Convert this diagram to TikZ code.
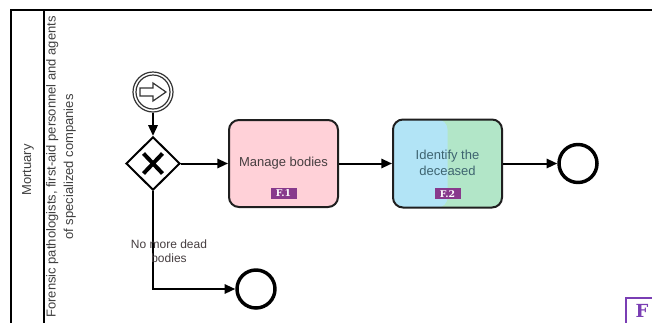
\documentclass[tikz,border=0pt]{standalone}
\usepackage{fontspec}
\setmainfont{Liberation Sans}
\newfontfamily\badgefont{DejaVu Serif}
\usetikzlibrary{arrows.meta,shapes.geometric}
\definecolor{badgepurple}{RGB}{136,58,140}
\definecolor{framepurple}{RGB}{122,62,180}
\definecolor{taskpink}{RGB}{255,209,216}
\definecolor{taskblue}{RGB}{178,228,246}
\definecolor{taskgreen}{RGB}{178,230,200}
\definecolor{txtgray}{RGB}{70,62,64}
\definecolor{txtteal}{RGB}{62,100,112}
\begin{document}
\begin{tikzpicture}[x=0.75pt,y=-0.75pt,
  flow/.style={line width=1.5pt,-{Triangle[length=8pt,width=7pt]}},
  task/.style={draw=black!88,line width=1.5pt,rounded corners=7.5pt,
    minimum width=81.75pt,minimum height=65.25pt,inner sep=0pt,align=center,
    font=\fontsize{9.75}{12}\selectfont},
  endev/.style={circle,draw=black,line width=2.6pt,minimum size=28.5pt,inner sep=0pt},
  badge/.style={fill=badgepurple,text=white,font=\badgefont\bfseries\fontsize{7}{8}\selectfont,
    minimum width=19.5pt,minimum height=8.25pt,inner sep=0pt},
  lanetext/.style={rotate=90,align=center,inner sep=0pt,text=black!75,
    font=\fontsize{9.75}{13}\selectfont}]
\useasboundingbox (0,0) rectangle (652,322);
\clip (0,0) rectangle (652,322);
\fill[white] (0,0) rectangle (652,322);
% pool frame
\draw[line width=1.5pt] (652,10) -- (11,10) -- (11,330);
\draw[line width=1.2pt] (44,10) -- (44,330);
\node[lanetext] (pool) at (28,170) {Mortuary};
\node[lanetext] (lane) at (61,167) {Forensic pathologists, first-aid personnel and agents\\of specialized companies};
% start event
\node[circle,draw=black!80,line width=0.9pt,minimum size=30pt,inner sep=0pt] (start) at (153,92) {};
\draw[black!80,line width=0.9pt] (start.center) circle[radius=17];
\draw[black!80,line width=0.9pt,fill=white] ([shift={(-13,-4)}]start.center) -- ++(13,0) -- ++(0,-5) -- ++(13,9) -- ++(-13,9) -- ++(0,-5) -- ++(-13,0) -- cycle;
% gateway
\node[diamond,draw=black,line width=1.5pt,minimum width=40.5pt,minimum height=40pt,inner sep=0pt,aspect=1] (gw) at (153,163.5) {};
\draw[line width=3pt] ([shift={(-9.5,-10)}]gw.center) -- ([shift={(9.5,10)}]gw.center);
\draw[line width=3pt] ([shift={(9.5,-10)}]gw.center) -- ([shift={(-9.5,10)}]gw.center);
% tasks
\node[task,fill=taskpink,text=txtgray] (t1) at (283.5,163.5) {Manage bodies};
\node[badge] (b1) at ([yshift=11]t1.south) {F.1};
\node[task,fill=taskgreen,text=txtteal,minimum height=66pt,
  path picture={\fill[taskblue] (path picture bounding box.south west) rectangle (path picture bounding box.north);}]
  (t2) at (447.5,163.5) {};
\node[align=center,text=txtteal,font=\fontsize{9.75}{12}\selectfont] (t2lbl) at (447.5,163) {Identify the\\deceased};
\node[badge] (b2) at ([yshift=11]t2.south) {F.2};
% end events
\node[endev] (end1) at (578,163.5) {};
\node[endev] (end2) at (256,289) {};
% flows
\draw[flow] (start.south) -- (gw.north);
\draw[flow] (gw.east) -- (t1.west);
\draw[flow] (t1.east) -- (t2.west);
\draw[flow] (t2.east) -- (end1.west);
\draw[flow] (gw.south) |- (end2.west);
\node[align=center,text=txtgray,inner sep=0pt,font=\fontsize{9}{10.5}\selectfont] (lbl) at (169,251) {No more dead\\bodies};
% cut-off badge bottom right
\node[draw=framepurple,line width=1.5pt,fill=white,anchor=north west,minimum width=30pt,minimum height=30pt,inner sep=0pt] (fbox) at (625,297) {};
\node[text=framepurple,font=\badgefont\bfseries\fontsize{13.5}{14}\selectfont,inner sep=0pt] (flbl) at (642,311) {F};
\end{tikzpicture}
\end{document}
